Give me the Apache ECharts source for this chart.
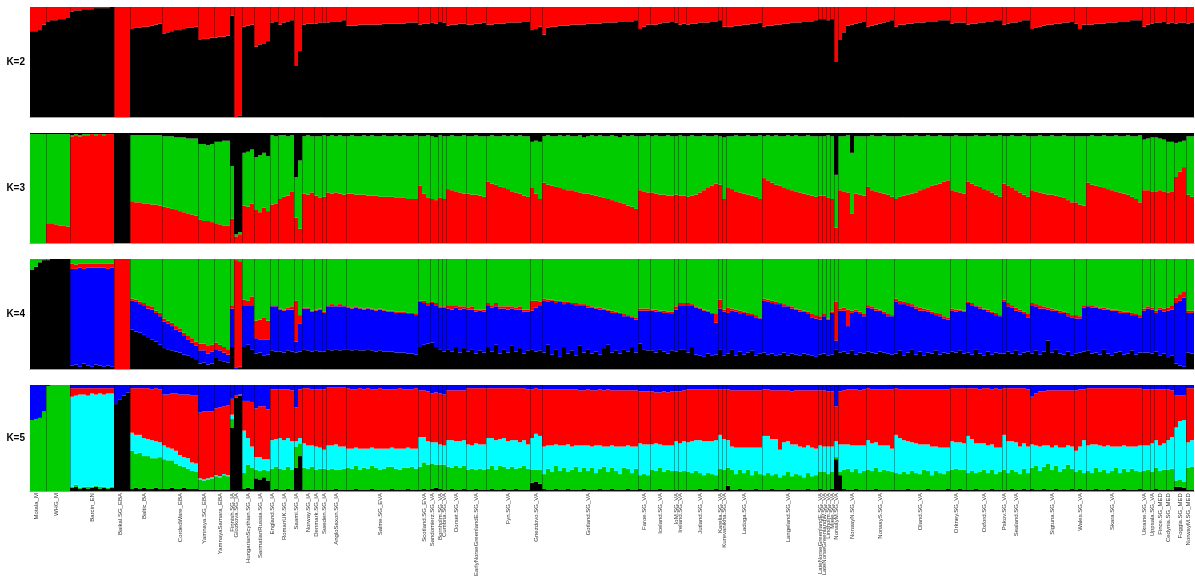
<!DOCTYPE html>
<html><head><meta charset="utf-8">
<script src="https://cdn.jsdelivr.net/npm/echarts/dist/echarts.min.js"></script>
<style>html,body{margin:0;padding:0;background:#fff}#c{width:1195px;height:579px}</style>
</head><body><div id="c"></div>
<script>
const popNames = ["Motala_M","WHG_M","Barcin_EN","Baikal.SG_EBA","Baltic_BA","CordedWare_EBA","Yamnaya.SG_EBA","YamnayaSamara_EBA","Finnish.SG_IA","Glozkova.SG_IA","HungarianScythian.SG_IA","SarmatianRussia.SG_IA","England.SG_IA","RomanUK.SG_IA","Saami.SG_IA","Norway.SG_IA","Denmark.SG_IA","Sweden.SG_IA","AngloSaxon.SG_IA","Salme.SG_EVA","Scotland.SG_EVA","Sandomierz.SG_VA","Bornholm.SG_VA","Cumbria.SG_VA","Dorset.SG_VA","EarlyNorseGreenlandE.SG_VA","Fyn.SG_VA","Gnezdovo.SG_VA","Gotland.SG_VA","Faroe.SG_VA","Iceland.SG_VA","IoM.SG_VA","Ireland.SG_VA","Jutland.SG_VA","Karelia.SG_VA","Kurevanikha.SG_VA","Ladoga.SG_VA","Langeland.SG_VA","LateNorseGreenlandE.SG_VA","LateNorseGreenlandW.SG_VA","Lindholm.SG_VA","Mjele.SG_VA","NorwayM.SG_VA","NorwayN.SG_VA","NorwayS.SG_VA","Oland.SG_VA","Orkney.SG_VA","Oxford.SG_VA","Pskov.SG_VA","Sealand.SG_VA","Sigtuna.SG_VA","Wales.SG_VA","Skara.SG_VA","Ukraine.SG_VA","Uppsala.SG_VA","Fince.SG_MED","Cedynia.SG_MED","Foggia.SG_MED","NorwayM.SG_MED"];
const popSizes = [4,6,11,4,8,9,4,4,1,2,3,4,2,4,2,3,2,1,5,18,3,2,1,1,5,5,11,3,24,3,6,1,2,8,1,1,9,14,1,1,1,1,1,7,7,14,4,9,1,6,11,3,14,2,1,3,2,3,2];

// K=2 : black share (red = remainder)
const k2Black = [
[78,78,79,84],[87,88,88,89,89,90],[96,97,97,98,98,98,99,99,99,99,100],[0,0,0,0],[80,81,81,82,82,83,84,85],[76,77,78,79,79,80,81,81,82],[70,71,71,72],[72,73,73,74],[92],[0,1],[82,83,84],[64,66,67,69],[86,87],[84,86,87,88],[47,60],[84,85,85],[85,86],[86],[86,87,87,87,88],
[83,83,83,84,84,84,84,84,84,85,85,85,85,85,85,86,86,86],[84,85,85],[86,85],[87],[86],[83,84,84,85,85],[84,84,85,85,86],[84,84,85,85,85,86,86,86,86,87,87],[79,80,82],
[75,81,82,82,83,83,83,84,84,84,84,85,85,85,85,86,86,86,86,87,87,87,87,88],[80,82,84],[84,84,85,86,86,87],[86],[84,85],[84,85,85,86,86,86,87,87],[88],[82],[82,82,83,83,84,84,85,85,86],[82,83,83,84,84,85,85,86,86,86,87,87,87,88],
[89],[89],[88],[89],[50],[70,77,83,84,85,86,87],[82,83,84,85,86,87,88],[82,84,84,85,85,86,86,86,87,87,87,88,88,88],[85,86,86,86],[84,85,85,86,86,87,87,88,88],[84],[85,86,86,87,88,88],[80,81,82,83,84,84,85,85,86,86,87],[85,80,84],[84,84,85,85,85,86,86,86,87,87,87,88,88,88],[82,84],[85],[86,86,87],[85,86],[85,86,86],[85,86]
];

// K=3 : red (bottom), black (top); green = remainder
const k3Red = [
[0,0,0,0],[18,18,17,16,16,15],[97,98,97,98,98,99,98,99,98,99,99],[0,0,0,0],[38,37,37,36,36,35,35,34],[33,32,31,30,29,28,27,26,25],[21,20,20,19],[18,17,16,16],[22],[6,8],[34,33,36],[30,28,32,29],[35,36],[40,42,43,47],[23,13],[45,44,46],[43,41],[42],[46,45,46,45,44],
[45,45,44,44,44,43,43,43,42,42,42,42,41,41,41,40,40,40],[52,45,41],[40,39],[41],[40],[49,48,47,46,45],[45,44,44,43,42],[56,54,53,51,50,49,47,46,45,43,42],[50,45,40],
[55,53,52,51,50,49,48,48,47,46,45,45,44,43,42,41,40,39,38,37,36,34,33,31],[48,47,46],[46,45,44,44,43,43],[44],[43,43],[42,43,44,46,48,50,52,54],[53],[40],[50,49,47,46,45,44,43,42,40],[59,57,55,53,52,50,49,48,47,46,45,44,43,42],
[43],[43],[41],[40],[14],[48,47,46,27,45,44,43],[51,48,47,46,45,44,42],[40,42,43,44,45,46,48,49,50,52,53,54,56,57],[48,47,46,45],[56,54,52,51,49,48,46,44,42],[54],[52,50,48,46,44,42],[48,47,46,45,44,44,43,42,41,39,37],[37,35,34],[55,53,52,51,50,49,48,47,46,45,44,42,40,37],[48,48],[47],[47,48,47],[46,47],[60,65,69],[44,42]
];
const k3Black = [
[1,1,1,1],[1,1,1,1,1,1],[2,1,2,1,1,1,1,1,1,1,1],[100,100,100,100],[2,2,2,2,2,2,2,2],[3,3,3,4,4,4,5,5,5],[10,10,11,10],[8,8,7,7],[30],[92,90],[18,17,15],[22,20,18,21],[2,3],[2,2,3,2],[40,25],[3,2,3],[3,3],[2],[3,2,3,2,3],
[3,2,3,3,2,3,2,3,3,2,3,3,2,3,2,3,3,2],[3,3,2],[3,4],[2],[3],[3,2,3,3,2],[3,3,2,3,3],[3,2,3,3,2,3,2,3,2,3,3],[8,7,8],
[3,2,3,3,2,3,2,3,3,2,4,3,2,3,2,3,3,2,3,4,2,3,2,3],[3,3,2],[3,2,3,3,2,3],[3],[2,3],[3,2,3,3,2,3,3,2],[3],[4],[3,3,2,3,3,2,3,3,2],[3,2,3,2,3,3,2,3,2,3,3,2,3,3],
[3],[3],[2],[3],[38],[3,3,2,18,3,3,3],[3,2,3,3,2,3,3],[3,3,2,3,3,2,3,3,2,3,3,2,3,3],[3,2,3,3],[3,3,2,3,3,2,3,3,2],[3],[3,2,3,3,2,3],[3,3,2,3,3,2,3,3,2,3,3],[3,3,3],[3,2,3,3,2,3,3,2,3,3,2,3,3,2],[6,5],[4],[4,5,6],[8,8],[9,8,7],[3,3]
];

// K=4 : black (bottom), blue, red; green = remainder (top)
const k4Black = [
[90,93,97,99],[99,100,100,100,100,100],[3,4,2,5,3,2,4,3,2,3,2],[0,0,0,0],[36,34,33,31,29,27,25,22],[19,18,17,16,15,13,12,10,9],[5,6,4,5],[10,8,7,6],[20],[0,1],[20,22,18],[14,15,12,13],[17,16],[16,15,17,16],[15,16],[18,17,16],[17,16],[16],[18,17,18,17,18],
[18,17,18,17,17,18,17,16,17,16,16,16,15,15,15,14,14,13],[20,22,23],[24,20],[18],[16],[18,16,20,15,19],[16,18,14,17,15],[20,16,22,14,18,15,21,16,19,14,17],[18,16,17],
[15,22,13,18,11,20,14,17,12,21,15,18,14,16,13,19,22,15,17,14,18,16,20,15],[23,18,17],[17,15,18,16,14,17],[16],[18,18],[15,20,13,12,11,14,12,13],[18],[12],[14,18,12,16,13,15,17,12,14],[15,13,14,12,13,15,12,14,13,12,14,13,12,11],
[13],[14],[12],[13],[18],[15,16,14,17,13,15,14],[16,15,14,16,15,14,13],[14,17,12,15,18,13,16,12,15,14,17,13,15,14],[16,15,17,14],[15,13,18,14,12,16,13,15,14],[14],[16,14,17,13,15,16],[14,17,13,16,26,15,18,14,13,16,12],[14,15,16],[17,14,15,13,18,14,12,15,16,13,14,17,13,15],[15,15],[14],[16,12,14],[10,12],[5,3,2],[15,14]
];
const k4Blue = [
[0,0,0,0],[0,0,0,0,0,0],[88,87,90,86,89,90,88,89,90,88,90],[0,0,0,0],[26,27,26,27,26,27,26,26],[24,23,22,20,19,17,15,14,12],[12,11,10,11],[8,9,8,7],[35],[1,1],[38,36,40],[14,12,15,14],[40,41],[38,38,37,38],[10,25],[37,38,36],[36,38],[35],[39,40,39,40,39],
[38,38,38,38,37,37,37,37,37,37,36,36,36,36,36,36,36,36],[41,38,35],[36,38],[38],[40],[37,38,36,39,36],[38,36,38,36,37],[38,40,35,41,37,39,34,38,35,38,35],[35,40,41],
[47,39,49,42,50,39,46,42,46,37,43,38,42,39,41,35,31,36,34,36,30,32,27,30],[30,35,36],[36,37,34,35,37,33],[38],[40,40],[43,38,43,43,42,38,38,29],[37],[40],[37,35,40,34,38,34,32,35,32],[47,48,46,47,46,42,45,41,41,40,38,37,35,35],
[32],[34],[33],[38],[8],[38,37,25,34,39,35,34],[40,40,39,37,35,34,35],[47,42,47,43,39,42,37,41,37,36,32,35,31,31],[37,37,36,38],[45,45,39,41,42,36,38,34,34],[47],[41,42,36,39,35,31],[44,40,42,39,28,38,35,37,38,32,35],[32,31,40],[40,42,41,42,36,40,41,38,35,38,37,32,36,32],[38,40],[40],[35,42,38],[43,42],[55,59,63],[36,37]
];
const k4Red = [
[0,0,0,0],[0,0,0,0,0,0],[5,4,4,5,4,4,4,4,4,5,4],[100,100,100,100],[2,2,2,2,3,3,2,3],[3,3,3,3,3,3,3,4,4],[6,6,7,6],[6,5,5,5],[3],[98,96],[5,4,8],[16,18,20,17],[1,1],[1,1,2,3],[37,8],[1,1,1],[1,1],[1],[1,2,1,2,1],
[1,1,1,1,1,1,1,1,1,1,1,1,1,1,1,1,1,1],[1,2,2],[1,2],[1],[1],[3,4,2,3,2],[2,3,2,1,2],[2,2,3,2,2,3,2,2,3,2,2],[9,6,3],
[2,2,1,2,1,2,1,1,2,1,1,2,1,1,2,1,1,2,1,1,2,1,1,2],[2,2,2],[1,2,1,2,1,2],[3],[2,2],[2,1,1,1,1,1,1,8],[8],[2],[5,2,2,3,1,2,1,2,1],[2,2,2,2,1,2,1,2,1,2,1,2,3,3],
[3],[2],[1],[1],[35],[2,3,15,2,2,2,2],[2,2,2,1,2,2,1],[3,3,2,2,2,2,3,2,2,2,2,2,2,2],[2,2,1,1],[1,2,1,2,1,2,1,2,1],[2],[3,2,3,2,2,3],[2,2,3,2,2,2,1,2,1,3,2],[3,2,2],[1,2,1,1,2,1,1,1,2,1,1,2,1,2],[2,2],[2],[2,2,3],[3,4],[5,6,5],[2,2]
];

// K=5 : black (bottom), green, cyan, red; blue = remainder (top)
const k5Black = [
[0,0,0,0],[0,0,0,0,0,0],[3,4,2,3,2,3,4,2,3,2,3],[82,86,90,93],[2,3,2,3,2,2,3,2],[2,2,3,2,2,3,2,2,2],[1,1,1,1],[1,1,1,1],[60],[88,90],[2,3,2],[12,11,13,10],[1,2],[1,1,2,1],[22,33],[1,1,1],[1,1],[1],[1,1,2,1,1],
[1,1,2,1,1,1,2,1,1,1,1,2,1,1,1,2,1,1],[1,2,1],[2,3],[2],[1],[1,2,1,1,2],[1,1,2,1,1],[1,2,1,1,2,1,1,2,1,1,1],[8,9,7],
[2,1,1,2,1,1,2,1,1,1,2,1,1,1,2,1,1,2,1,1,1,2,1,1],[2,1,1],[1,1,2,1,1,1],[1],[1,1],[1,1,1,2,1,1,1,2],[1],[1],[5,1,1,2,1,1,1,2,1],[1,1,2,1,1,1,2,1,1,1,1,2,1,1],
[2],[1],[1],[2],[30],[15,2,1,1,2,1,1],[1,1,2,1,1,1,1],[1,1,1,2,1,1,1,1,2,1,1,1,1,2],[1,1,2,1],[1,1,2,1,1,1,2,1,1],[1],[1,2,1,1,2,1],[2,1,1,2,1,1,2,1,1,1,2],[1,2,1],[1,1,2,1,1,2,1,1,1,2,1,1,1,2],[1,1],[1],[2,1,1],[1,1],[4,4,3],[1,1]
];
const k5Green = [
[67,68,69,75],[99,100,100,100,100,100],[1,2,1,1,2,1,1,2,1,1,1],[0,0,0,0],[36,32,34,30,31,29,28,30],[28,27,26,24,22,20,19,17,16],[10,9,10,11],[13,12,14,13],[8],[0,0],[15,22,20],[8,8,7,9],[20,21],[20,19,21,19],[20,12],[21,20,22],[19,20],[20],[19,20,18,19,20],
[21,20,22,19,21,20,22,21,19,20,22,21,20,19,21,20,22,20],[22,25,24],[24,22],[23],[24],[22,20,23,21,22],[19,20,18,20,19],[20,22,19,23,21,20,22,19,21,23,20],[12,11,13],
[14,20,17,22,18,21,16,19,22,17,20,18,21,16,19,22,17,20,18,15,21,19,16,20],[13,15,14],[19,18,20,17,19,18],[18],[17,18],[17,16,18,15,14,16,15,13],[20],[19],[17,19,15,18,16,19,14,17,15],[14,16,13,15,12,14,16,13,15,14,12,15,13,14],
[16],[17],[15],[16],[2],[3,18,20,17,19,16,18],[19,18,20,17,19,18,17],[16,15,17,14,18,16,15,19,17,14,18,16,15,17],[19,20,18,19],[16,18,15,17,19,16,18,15,17],[19],[16,18,17,15,19,16],[20,23,18,21,25,19,22,17,20,24,19],[17,18,16],[18,16,20,17,19,15,18,21,16,19,17,20,18,16],[18,19],[17],[20,18,19],[19,20],[6,7,6],[21,22]
];
const k5Cyan = [
[0,0,0,0],[0,0,0,0,0,0],[85,84,88,87,86,88,86,88,87,89,88],[0,0,0,0],[17,18,17,17,16,17,16,14],[13,12,11,12,10,9,10,8,8],[1,1,1,1],[1,1,1,1],[4],[0,0],[40,25,20],[12,13,10,11],[27,26],[29,28,27,27],[5,5],[23,22,20],[22,20],[18],[23,22,24,22,21],
[18,19,17,20,18,19,17,18,20,19,17,18,19,20,18,19,17,19],[28,24,22],[20,21],[19],[18],[25,26,23,25,24],[24,22,25,23,24],[29,26,28,25,27,26,25,27,24,24,23],[30,34,32],
[26,22,25,20,24,21,26,22,20,25,21,24,20,26,22,19,24,21,23,26,20,22,25,21],[30,28,29],[24,26,22,25,23,24],[28],[27,28],[28,30,29,31,32,30,31,33],[32],[29],[26,22,25,21,24,21,26,22,25],[37,35,34,33,26,31,29,30,28,27,28,26,27,25],
[25],[24],[26],[24],[15],[26,24,23,25,22,26,24],[28,26,24,25,23,24,22],[36,34,30,31,27,28,28,24,25,27,23,24,25,22],[27,25,26,25],[35,30,28,27,25,26,24,25,23],[33],[30,27,28,26,24,25],[22,19,23,20,17,21,19,23,20,18,21],[20,22,31],[24,27,22,25,22,26,23,20,25,22,24,21,23,25],[24,23],[27],[26,24,25],[28,30],[50,55,58],[24,25]
];
const k5Red = [
[0,0,0,0],[0,0,0,0,0,0],[8,7,6,6,7,5,6,5,6,5,5],[0,0,0,0],[42,44,44,47,48,48,50,50],[48,50,52,54,57,59,60,63,64],[62,64,63,62],[63,65,64,66],[15],[2,1],[28,35,42],[46,48,50,47],[48,47],[46,48,46,48],[32,46],[52,54,53],[54,55],[57],[55,55,54,56,56],
[57,56,55,57,56,57,55,56,57,56,56,55,56,57,56,55,56,57],[44,44,47],[46,47],[48],[48],[47,47,48,48,47],[53,54,52,53,53],[47,47,49,48,47,50,49,49,51,49,52],[46,43,44],
[54,53,53,52,53,53,52,54,53,52,52,53,53,52,53,53,54,52,53,53,53,52,53,53],[49,50,50],[50,48,49,51,50,51],[47],[49,48],[50,49,48,48,49,49,49,48],[43],[47],[48,53,54,54,54,54,54,54,54],[44,44,46,46,56,49,48,50,51,53,54,52,54,55],
[52],[53],[52],[52],[33],[50,51,52,53,53,52,53],[49,51,50,53,53,53,56],[44,46,48,49,50,51,52,52,52,54,54,55,55,55],[50,51,51,52],[45,48,52,51,52,54,52,56,55],[44],[50,50,51,55,52,54],[45,49,52,51,52,54,52,54,54,52,53],[57,54,48],[54,53,53,54,55,54,55,55,55,54,55,55,55,54],[53,53],[51],[48,53,51],[48,44],[30,24,23],[51,49]
];

const panelLabels = ["K=2","K=3","K=4","K=5"];

// ---------- build ----------
const COL = {black:'#000000', red:'#ff0000', green:'#00cc00', blue:'#0000ff', cyan:'#00ffff'};
const popOf = [], starts = [];
let acc = 0;
popSizes.forEach((n,p)=>{ starts.push(acc); for(let i=0;i<n;i++) popOf.push(p); acc += n; });
const N = acc;
const cats = popOf.map((p,i)=>String(i));
const labelIdx = new Set(popSizes.map((n,p)=>starts[p] + Math.floor((n-1)/2)));
const boundaries = starts.slice(1);

function flat(nested){
  const out=[];
  popSizes.forEach((n,p)=>{ const row=nested[p]||[]; for(let i=0;i<n;i++) out.push(row[i]!=null?row[i]:0); });
  return out;
}
const panels = [
  [['black',k2Black],['red',null]],
  [['red',k3Red],['green',null],['black',k3Black]],
  [['black',k4Black],['blue',k4Blue],['red',k4Red],['green',null]],
  [['black',k5Black],['green',k5Green],['cyan',k5Cyan],['red',k5Red],['blue',null]]
];
const tops = [7,133,259,385];
const grids=[], xAxes=[], yAxes=[], series=[];
panels.forEach((comps,g)=>{
  grids.push({left:30, width:1164, top:tops[g], height:110});
  xAxes.push({type:'category', gridIndex:g, data:cats, boundaryGap:true,
    axisTick:{show:false}, splitLine:{show:false},
    axisLine:{show:true, lineStyle:{color:'#a0a0a0', width:1}},
    axisLabel: g===3 ? {show:true, interval:(i)=>labelIdx.has(i), rotate:90, fontSize:6, color:'#333',
       fontFamily:'Liberation Sans, Arial, sans-serif', margin:2, formatter:(v,i)=>popNames[popOf[+v]]} : {show:false}
  });
  yAxes.push({type:'value', gridIndex:g, min:0, max:100, name:panelLabels[g], nameLocation:'middle', nameRotate:0, nameGap:5,
    nameTextStyle:{fontSize:10, fontWeight:'bold', color:'#000', fontFamily:'Liberation Sans, Arial, sans-serif'},
    axisLine:{show:false}, axisTick:{show:false}, axisLabel:{show:false}, splitLine:{show:false}});
  const given = comps.map(c=>c[1]?flat(c[1]):null);
  const rest = [];
  for(let i=0;i<N;i++){ let s=0; given.forEach(a=>{ if(a) s+=a[i]; }); rest.push(Math.max(0,100-s)); }
  comps.forEach((c,k)=>{
    series.push({type:'bar', xAxisIndex:g, yAxisIndex:g, stack:'k'+g, data: given[k]||rest,
      itemStyle:{color:COL[c[0]]}, barCategoryGap:'0%', barGap:'0%', silent:true});
  });
  series.push({type:'custom', xAxisIndex:g, yAxisIndex:g, silent:true, z:5,
    data: boundaries.map(b=>[b,0]), encode:{x:0,y:1},
    renderItem:(params, api)=>{
      const idx=api.value(0);
      const top=api.coord([idx,100]), bot=api.coord([idx,0]);
      const w=api.size([1,0])[0];
      const x=Math.round(top[0]-w/2)+0.5;
      return {type:'line', shape:{x1:x,y1:top[1],x2:x,y2:bot[1]}, style:{stroke:'rgba(0,0,0,0.32)', lineWidth:1}};
    }});
});
const chart = echarts.init(document.getElementById('c'), null, {renderer:'canvas'});
chart.setOption({animation:false, backgroundColor:'#ffffff', grid:grids, xAxis:xAxes, yAxis:yAxes, series:series});
</script></body></html>
